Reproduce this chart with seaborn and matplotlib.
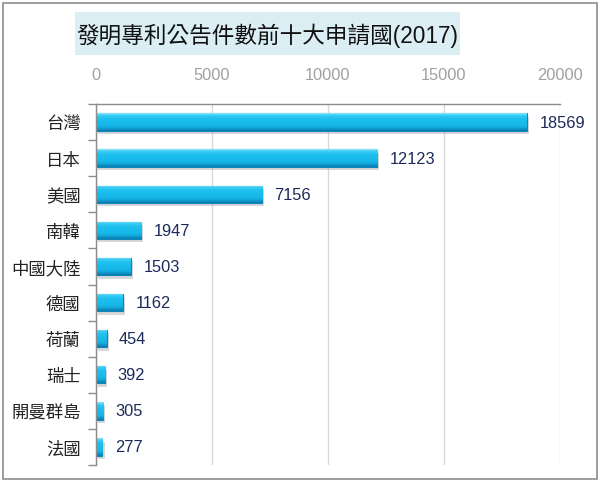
import numpy as np
import pandas as pd
import matplotlib
matplotlib.use("Agg")
import matplotlib.pyplot as plt
import matplotlib.patheffects as pe
from matplotlib.colors import LinearSegmentedColormap
from matplotlib.patches import Rectangle
import seaborn as sns

# dados do gráfico
paises = ["台灣", "日本", "美國", "南韓", "中國大陸", "德國", "荷蘭", "瑞士", "開曼群島", "法國"]
patentes = [18569, 12123, 7156, 1947, 1503, 1162, 454, 392, 305, 277]
x_ticks = [0, 5000, 10000, 15000, 20000]
titulo = "發明專利公告件數前十大申請國(2017)"

df = pd.DataFrame({"pais": paises, "patentes": patentes})

sns.set_theme(style="white")
plt.rcParams["font.family"] = ["Liberation Sans", "Noto Sans CJK TC", "DejaVu Sans"]

fig = plt.figure(figsize=(6.01, 4.85), dpi=100)
ax = fig.add_axes([96 / 601, 1 - 466 / 485, 464 / 601, 361 / 485])

sns.barplot(data=df, x="patentes", y="pais", orient="y", ax=ax,
            color="#1EC3F0", width=0.48, edgecolor="#0F86BA", linewidth=0.8)

# gradiente vertical + sombra em cada barra
cmap = LinearSegmentedColormap.from_list(
    "ciano", [(0, "#8BE6FB"), (0.12, "#3CCDF4"), (0.3, "#1EC1EF"),
              (0.75, "#16B4E6"), (0.9, "#0E94C8"), (1, "#0B7BAA")])
grad = np.linspace(0, 1, 64).reshape(-1, 1)
for bar in ax.patches:
    bar.set_path_effects([pe.SimplePatchShadow(offset=(1.5, -2.5), shadow_rgbFace="#909090", alpha=0.35),
                          pe.Normal()])
    x0, y0 = bar.get_x(), bar.get_y()
    w, h = bar.get_width(), bar.get_height()
    im = ax.imshow(grad, cmap=cmap, aspect="auto", origin="upper",
                   extent=(x0, x0 + w, y0 + h, y0), zorder=bar.get_zorder() + 0.1)
    im.set_clip_path(bar)

ax.set_xlim(0, 20000)
ax.set_ylim(9.5, -0.5)

ax.bar_label(ax.containers[0], labels=[str(v) for v in patentes], padding=9,
             fontsize=11.8, color="#1B2A5A")

# eixo x no topo
ax.xaxis.tick_top()
ax.set_xticks(x_ticks)
ax.set_xticklabels([str(t) for t in x_ticks])
ax.tick_params(axis="x", length=0, pad=16, labelsize=11.8, labelcolor="#A0A0A0")
ax.tick_params(axis="y", which="major", length=0, pad=11, labelsize=12.5, labelcolor="#222222")
ax.set_yticks(np.arange(-0.5, 10, 1), minor=True)
ax.tick_params(axis="y", which="minor", length=6, width=1, color="#8C8C8C", left=True)
ax.set_xlabel("")
ax.set_ylabel("")

ax.grid(axis="x", color="#D9D9D9", linewidth=1)
ax.set_axisbelow(True)
for s in ["bottom", "right"]:
    ax.spines[s].set_visible(False)
for s in ["top", "left"]:
    ax.spines[s].set_color("#8C8C8C")
    ax.spines[s].set_linewidth(1)

# título numa caixa azul clara
fig.patches.append(Rectangle((75 / 601, 1 - 56 / 485), 385 / 601, 43 / 485,
                             transform=fig.transFigure, facecolor="#DAEEF3", edgecolor="none"))
fig.text(267 / 601, 1 - 36 / 485, titulo, ha="center", va="center",
         fontsize=16.3, color="#111111")

# borda do gráfico
fig.patches.append(Rectangle((3 / 601, 1 - 480 / 485), 594 / 601, 476 / 485,
                             transform=fig.transFigure, facecolor="none",
                             edgecolor="#8C8C8C", linewidth=1.2))

plt.savefig("out.png", dpi=100)
